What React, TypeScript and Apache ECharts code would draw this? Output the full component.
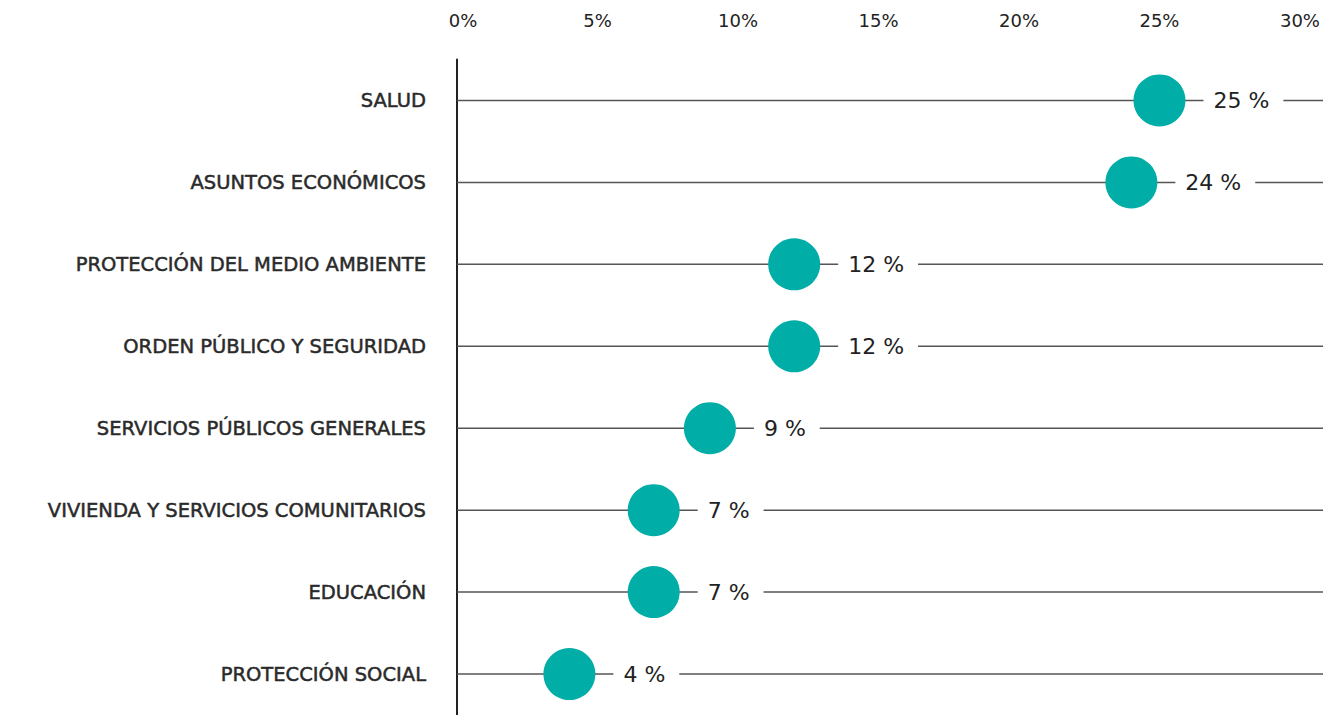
import React, { useEffect, useRef } from "react";
import * as echarts from "echarts";

const categories = [
  "SALUD",
  "ASUNTOS ECONÓMICOS",
  "PROTECCIÓN DEL MEDIO AMBIENTE",
  "ORDEN PÚBLICO Y SEGURIDAD",
  "SERVICIOS PÚBLICOS GENERALES",
  "VIVIENDA Y SERVICIOS COMUNITARIOS",
  "EDUCACIÓN",
  "PROTECCIÓN SOCIAL",
];
const values = [25, 24, 12, 12, 9, 7, 7, 4];
const X_MAX = 30.82;
const TICK_STEP = 5;

export default function App() {
  const ref = useRef<HTMLDivElement>(null);
  useEffect(() => {
    if (!ref.current) return;
    const chart = echarts.init(ref.current, null, { renderer: "svg" });
    chart.setOption({
      animation: false,
      grid: { left: 457, right: 0, top: 59.5, height: 664, containLabel: false },
      xAxis: {
        type: "value",
        position: "top",
        min: 0,
        max: X_MAX,
        interval: TICK_STEP,
        axisLine: { show: false },
        axisTick: { show: false },
        splitLine: { show: false },
        axisLabel: {
          margin: 30,
          color: "#222",
          fontSize: 18,
          fontFamily: "DejaVu Sans",
          formatter: (v: number) =>
            v === 0 ? "{first|0%}" : v % TICK_STEP === 0 ? v + "%" : "",
          rich: {
            first: { padding: [0, 0, 0, 12], fontSize: 18, fontFamily: "DejaVu Sans", color: "#222" },
          },
        },
      },
      yAxis: {
        type: "category",
        data: categories,
        inverse: true,
        axisLine: { show: true, lineStyle: { color: "#222", width: 2 } },
        axisTick: { show: false },
        splitLine: { show: false },
        axisLabel: {
          margin: 31,
          color: "#2a2a2a",
          fontSize: 19.5,
          fontFamily: "DejaVu Sans",
          textBorderColor: "#2a2a2a",
          textBorderWidth: 0.5,
        },
      },
      series: [
        {
          type: "bar",
          data: categories.map(() => X_MAX),
          barWidth: 1.5,
          itemStyle: { color: "#555" },
          silent: true,
          z: 1,
        },
        {
          type: "scatter",
          data: values.map((v, i) => [v, categories[i]]),
          symbol: "circle",
          symbolSize: 52,
          itemStyle: { color: "#00ADA7", opacity: 1 },
          z: 3,
          label: {
            show: true,
            position: "right",
            distance: 18,
            formatter: (p: any) => p.value[0] + " %",
            color: "#222",
            fontSize: 22,
            fontFamily: "DejaVu Sans",
            backgroundColor: "#fff",
            padding: [4, 14, 4, 10],
          },
        },
      ],
    });
    return () => chart.dispose();
  }, []);
  return <div ref={ref} style={{ width: 1326, height: 715, position: "absolute", left: 0, top: 0 }} />;
}
